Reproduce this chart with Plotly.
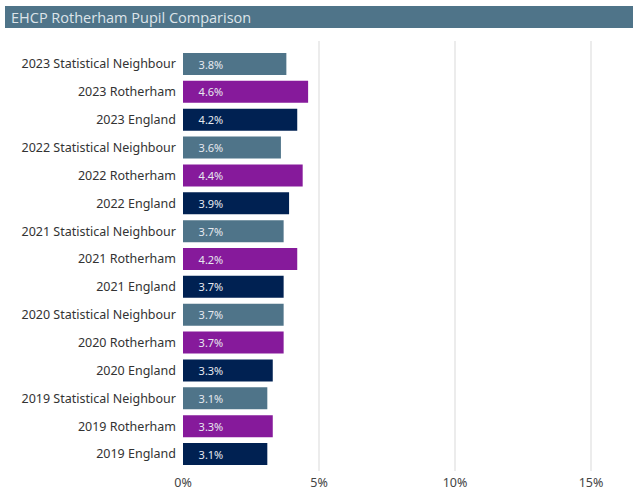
import plotly.graph_objects as go

years = ["2019", "2020", "2021", "2022", "2023"]
groups = ["England", "Rotherham", "Statistical Neighbour"]
england = [3.1, 3.3, 3.7, 3.9, 4.2]
rotherham = [3.3, 3.7, 4.2, 4.4, 4.6]
stat_neighbour = [3.1, 3.7, 3.7, 3.6, 3.8]
colors = {"England": "#002152", "Rotherham": "#861a9b", "Statistical Neighbour": "#4f7489"}
values = {"England": england, "Rotherham": rotherham, "Statistical Neighbour": stat_neighbour}
x_ticks = [0, 5, 10, 15]
title_text = "EHCP Rotherham Pupil Comparison"

order = [f"{y} {g}" for y in years for g in groups]

W, H = 633, 493
L, R, T, B = 183, 0, 41, 22
pw, ph = W - L - R, H - T - B
first_center, last_center = 64, 454  # pixel centres of top / bottom bands
n = len(order)
band = (last_center - first_center) / (n - 1)

fig = go.Figure()
for g in groups:
    cats = [f"{y} {g}" for y in years]
    fig.add_trace(go.Bar(
        x=values[g], y=cats, orientation="h",
        marker=dict(color=colors[g], line=dict(width=0)),
        text=[f"\u2007\u2007{v:.1f}%" for v in values[g]],
        textposition="inside", insidetextanchor="start",
        textfont=dict(color="#e6e9ef", size=11, family="Noto Sans"),
        cliponaxis=False, showlegend=False, hoverinfo="skip",
    ))

fig.update_layout(
    width=W, height=H,
    margin=dict(l=L, r=R, t=T, b=B, pad=0, autoexpand=False),
    paper_bgcolor="white", plot_bgcolor="white",
    bargap=0.21, barmode="overlay",
    font=dict(family="Noto Sans", size=12, color="#333333"),
    uniformtext=dict(mode="show", minsize=11),
)
fig.update_yaxes(
    categoryorder="array", categoryarray=order, automargin=False,
    range=[-(H - B - last_center) / band, (last_center - T) / band],
    showgrid=False, zeroline=False, showline=False, ticks="",
    tickfont=dict(size=12.5, color="#333333", family="Noto Sans"),
    ticklabelstandoff=6,
)
fig.update_xaxes(
    range=[0, pw / 27.2], tickvals=x_ticks, ticktext=[f"{t}%" for t in x_ticks],
    automargin=False,
    showgrid=True, gridcolor="#ececec", gridwidth=2, zeroline=False, showline=False,
    tickfont=dict(size=12.5, color="#444444", family="Noto Sans"),
    ticklabelstandoff=2,
)

y0 = (H - B - 28) / ph
y1 = (H - B - 6) / ph
fig.add_shape(type="rect", xref="paper", yref="paper",
              x0=(5 - L) / pw, x1=1.0, y0=y0, y1=y1,
              fillcolor="#4f7489", line=dict(width=0), layer="above")
fig.add_annotation(xref="paper", yref="paper", x=(9 - L) / pw, y=(y0 + y1) / 2,
                   xanchor="left", yanchor="middle", showarrow=False,
                   text=title_text, font=dict(size=14.5, color="#dde4e9", family="Open Sans"))

fig.write_html("out.html", config={"displayModeBar": False},
               post_script="document.body.style.margin='0';document.body.style.overflow='hidden';")
